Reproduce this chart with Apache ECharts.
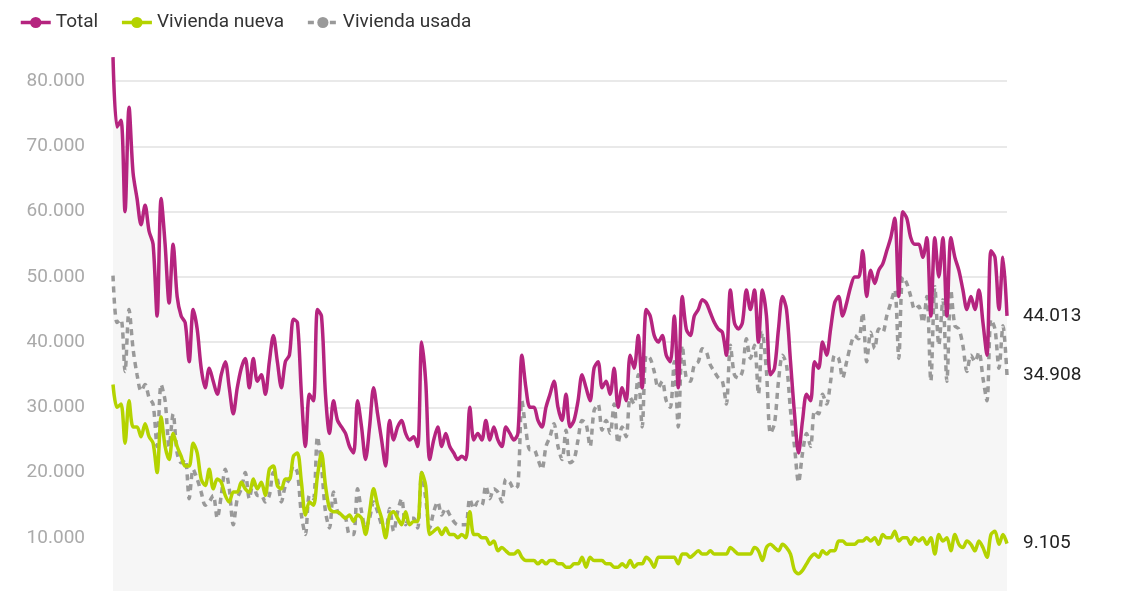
<!DOCTYPE html>
<html>
<head>
<meta charset="utf-8">
<script src="https://cdn.jsdelivr.net/npm/echarts@6/dist/echarts.min.js"></script>
<style>html,body{margin:0;background:#fff;overflow:hidden}#c{width:1128px;height:603px}</style>
</head>
<body>
<div id="c"></div>
<script>
// compraventas mensuales (miles)
var total = [83.7,73,74,60,76,66,62,58,61,57,55,44,62,55,46,55,47,44,43,37,45,42,36,33,36,34,32,35,37,33,29,33,36,37.5,33,37.5,34,35,32,37,41,37,33,37,38,43.5,43,32,24,32,31,45,44,32,26,31,28,27,26,24,23,31,27,22,27,33,29,25,21,28,25,27,28,26,25,25.5,24,40,34,22,25,27,24,26,24,23,22,22.5,22,30,25,26,25,28,25,27,25,24,27,26,25,26,38,33,30,30,28,27,30,32,34,30,28,32,27,28,31,35,33,31,36,37,33,34,32,36,30,33,31,38,36,41,33,45,44,41,40,41,38,37,44,33,47,42,41,44,45,46.5,46,44.5,43,42,41.5,38,48,43,42,43,48,45,48,40,48,44,35,36,42,47,45,37,29,23,28,32,31,37,36,40,38,42,46,47,44,46,48.5,50,50,54,47,51,49,51,52,54,56,59,47,60,59,56,55,55,53,56,44,56,50,56,44,56,53,51,48,45,47,45,48,43,38,54,53,45,53,44.013];
var nueva = [33.5,30,30.5,24.5,31,27,27,25.5,27.5,25.5,24.5,20,28.5,24,22,26,24,22.5,21,21,24.5,23,19,18,20.5,17.5,19,18.5,16.5,15.5,17,17,18.5,17.5,17,19,17.5,18.5,16.5,20.5,21,18,17.5,19,19,22.5,23,18.5,13.5,15.5,15,19.5,23,18,14.5,14,14,13.5,13,13.5,12.5,13.5,13,10.5,14,17.5,15,13,10,13.5,14,13,12,14,12,12.5,12.5,20,18,10.5,11,11.5,10.5,11.5,10.5,10.5,10,10.5,10,14,10.5,10.5,10,10,9,9.5,8,8.5,8,7.5,7.5,8,7,6.5,6.5,6.5,6,6.5,6,6.5,6.5,6,6,5.5,5.5,6,6,7,5.5,7,6.5,6.5,6.5,6,6,5.5,5.5,6,5.5,6.5,5.5,6,6,7,6.5,5.5,7,7,7,7,7,6,7.5,7.5,7,7.5,8,7.5,7.5,8,7.5,7.5,7.5,7.5,8.5,8,7.5,7.5,7.5,7.5,8.5,8,6.5,8.5,9,8.5,8,9,8.5,7.5,5,4.5,5,6,7,7.5,7,8,7.5,8,8,9.5,9.5,9,9,9,9.5,9.5,10,9.5,10,9,10.5,10,10,11,9.5,10,10,9,10,9.5,10,9,10,7.5,10.5,9.5,10,8,10.5,9,8.5,9.5,9,8,9.5,8.5,7,10.5,11,9,10.5,9.105];
var usada = [50.2,43,43.5,35.5,45,39,35,32.5,33.5,31.5,30.5,24,33.5,31,24,29,23,21.5,22,16,20.5,19,17,15,15.5,16.5,13,16.5,20.5,17.5,12,16,17.5,20,16,18.5,16.5,16.5,15.5,16.5,20,19,15.5,18,19,21,20,13.5,10.5,16.5,16,25.5,21,14,11.5,17,14,13.5,13,10.5,10.5,17.5,14,11.5,13,15.5,14,12,11,14.5,11,14,16,12,13,13,11.5,20,16,11.5,14,15.5,13.5,14.5,13.5,12.5,12,12,12,16,14.5,15.5,15,18,16,17.5,17,15.5,19,18.5,17.5,18,31,26.5,23.5,23.5,22,20.5,24,25.5,27.5,24,22,26.5,21.5,22,25,28,27.5,24,29.5,30.5,26.5,28,26,30.5,24.5,27,25.5,31.5,30.5,35,27,38,37.5,35.5,33,34,31,30,37,27,39.5,34.5,34,36.5,37,39,38.5,36.5,35.5,34.5,34,30.5,39.5,35,34.5,35.5,40.5,37.5,39.5,32,41.5,35.5,26,27.5,34,38,36.5,29.5,24,18.5,23,26,24,29.5,29,32,30.5,34,38,37.5,34.5,37,39.5,41,40.5,44.5,37,41.5,39,42,41.5,44,46,48,37.5,50,49,47,45,45.5,43,47,34,48.5,39.5,46.5,34,48,42.5,42,39.5,35.5,38,37,38.5,34.5,31,43.5,42,36,42.5,34.908];
var meses = total.map(function (v, i) { return String(i); });

var fmt = function (v) {
  return Math.round(v * 1000).toString().replace(/\B(?=(\d{3})+(?!\d))/g, '.');
};

var chart = echarts.init(document.getElementById('c'));
var endLabel = {
  show: true,
  distance: 16,
  color: '#222',
  fontSize: 19,
  fontFamily: 'Roboto',
  formatter: function (p) { return fmt(p.value); }
};
chart.setOption({
  animation: false,
  textStyle: { fontFamily: 'Roboto' },
  legend: {
    left: 14,
    top: 8,
    itemWidth: 30,
    itemHeight: 14,
    itemGap: 22,
    lineStyle: { width: 3.5 },
    textStyle: { fontSize: 19, color: '#333' },
    data: ['Total', 'Vivienda nueva', 'Vivienda usada']
  },
  grid: { left: 113, right: 121, top: 16, bottom: 0 },
  xAxis: {
    type: 'category',
    data: meses,
    boundaryGap: false,
    axisLine: { show: false },
    axisTick: { show: false },
    axisLabel: { show: false }
  },
  yAxis: {
    type: 'value',
    min: 0,
    max: 90,
    interval: 10,
    axisLabel: {
      color: '#aaa',
      fontSize: 19,
      margin: 28,
      showMinLabel: false,
      showMaxLabel: false,
      formatter: function (v) { return fmt(v); }
    },
    splitLine: { showMaxLine: false, lineStyle: { color: '#e2e2e2', width: 1.5 } }
  },
  series: [{
    name: 'fondo',
    type: 'line',
    data: total,
    symbol: 'none',
    smooth: 0.3,
    silent: true,
    z: 1,
    lineStyle: { width: 0 },
    areaStyle: { color: '#f6f6f6', opacity: 1 }
  }, {
    name: 'Vivienda usada',
    type: 'line',
    data: usada,
    symbol: 'none',
    smooth: 0.3,
    z: 2,
    lineStyle: { color: '#999', width: 3.5, type: [6, 5] },
    itemStyle: { color: '#999' },
    endLabel: endLabel
  }, {
    name: 'Vivienda nueva',
    type: 'line',
    data: nueva,
    symbol: 'none',
    smooth: 0.3,
    z: 3,
    lineStyle: { color: '#b4d300', width: 3.5 },
    itemStyle: { color: '#b4d300' },
    endLabel: endLabel
  }, {
    name: 'Total',
    type: 'line',
    data: total,
    symbol: 'none',
    smooth: 0.3,
    z: 4,
    lineStyle: { color: '#b5247f', width: 3.5 },
    itemStyle: { color: '#b5247f' },
    endLabel: endLabel
  }]
});
</script>
</body>
</html>
